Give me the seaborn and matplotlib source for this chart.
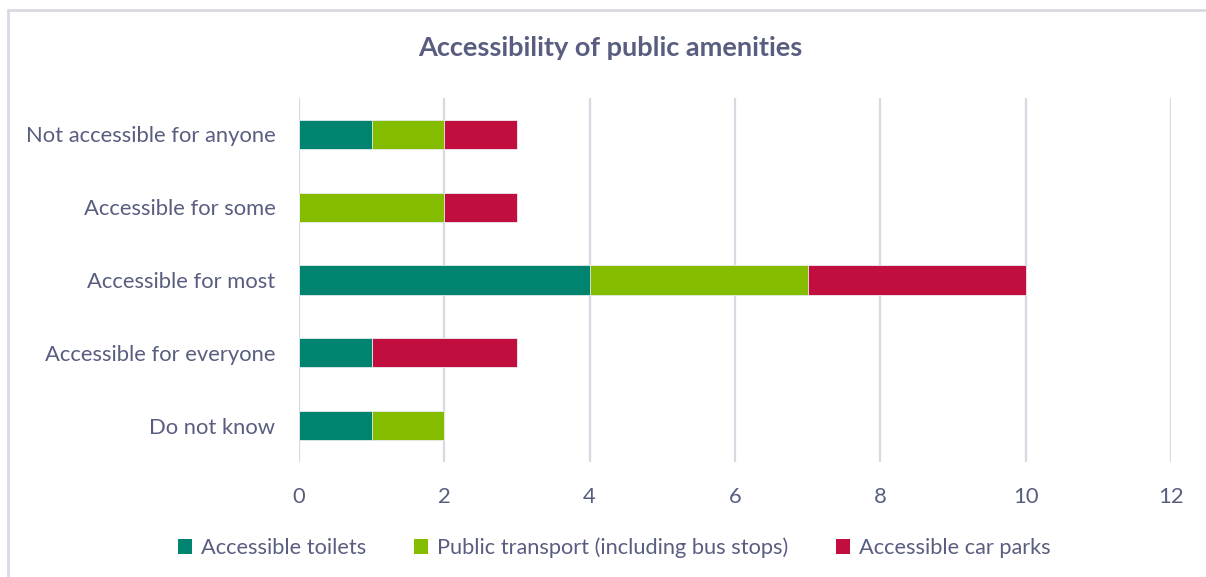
import matplotlib
matplotlib.use("Agg")
import matplotlib.pyplot as plt
from matplotlib.patches import Patch
from matplotlib.lines import Line2D
import numpy as np
import pandas as pd
import seaborn as sns

categories = ["Not accessible for anyone", "Accessible for some", "Accessible for most",
              "Accessible for everyone", "Do not know"]
series_names = ["Accessible toilets", "Public transport (including bus stops)", "Accessible car parks"]
toilets = [1, 0, 4, 1, 1]
transport = [1, 2, 3, 0, 1]
car_parks = [1, 1, 3, 2, 0]
x_ticks = [0, 2, 4, 6, 8, 10, 12]

colors = ["#00846F", "#84BD00", "#C20E3F"]
text_color = "#595E80"
grid_color = "#D9D9E3"

sns.set_theme(style="white")
plt.rcParams["font.family"] = ["Lato", "DejaVu Sans"]

fig = plt.figure(figsize=(12.06, 5.77), dpi=100)
ax = fig.add_axes([299 / 1206, 1 - 462 / 577, (1171 - 299) / 1206, (462 - 98) / 577])

# stacked bars: draw cumulative totals from the outermost segment inward
stack = np.cumsum(np.array([toilets, transport, car_parks]), axis=0)
for level in range(2, -1, -1):
    df = pd.DataFrame({"category": categories, "value": stack[level]})
    sns.barplot(data=df, y="category", x="value", orient="h", color=colors[level],
                saturation=1, width=0.4, ax=ax, order=categories,
                linewidth=0.6, edgecolor="#E8EEF0")

ax.set_xlim(0, 12)
ax.set_ylim(4.5, -0.5)
ax.set_xticks(x_ticks)
ax.set_xticklabels([str(t) for t in x_ticks])
ax.set_xlabel("")
ax.set_ylabel("")
ax.xaxis.grid(True, color=grid_color, linewidth=1.6)
ax.set_axisbelow(True)
for s in ax.spines.values():
    s.set_visible(False)
ax.tick_params(axis="both", length=0, labelsize=15.8, labelcolor=text_color)
ax.tick_params(axis="x", pad=18)
ax.tick_params(axis="y", pad=17)

fig.text(610 / 1206, 1 - 48 / 577, "Accessibility of public amenities", ha="center", va="center",
         fontsize=19.5, fontweight="bold", color=text_color)

handles = [Patch(facecolor=c, edgecolor="none") for c in colors]
leg = fig.legend(handles, series_names, loc="center", bbox_to_anchor=(614 / 1206, 1 - 548 / 577),
                 ncol=3, frameon=False, fontsize=15.7, handlelength=0.65, handleheight=0.65,
                 handletextpad=0.4, columnspacing=2.2, labelcolor=text_color)

# outer chart frame (top and left edges)
fig.add_artist(Line2D([8 / 1206, 1], [1 - 10 / 577, 1 - 10 / 577], transform=fig.transFigure,
                      color=grid_color, linewidth=2))
fig.add_artist(Line2D([8 / 1206, 8 / 1206], [0, 1 - 10 / 577], transform=fig.transFigure,
                      color=grid_color, linewidth=2))

fig.savefig("out.png", dpi=100)
